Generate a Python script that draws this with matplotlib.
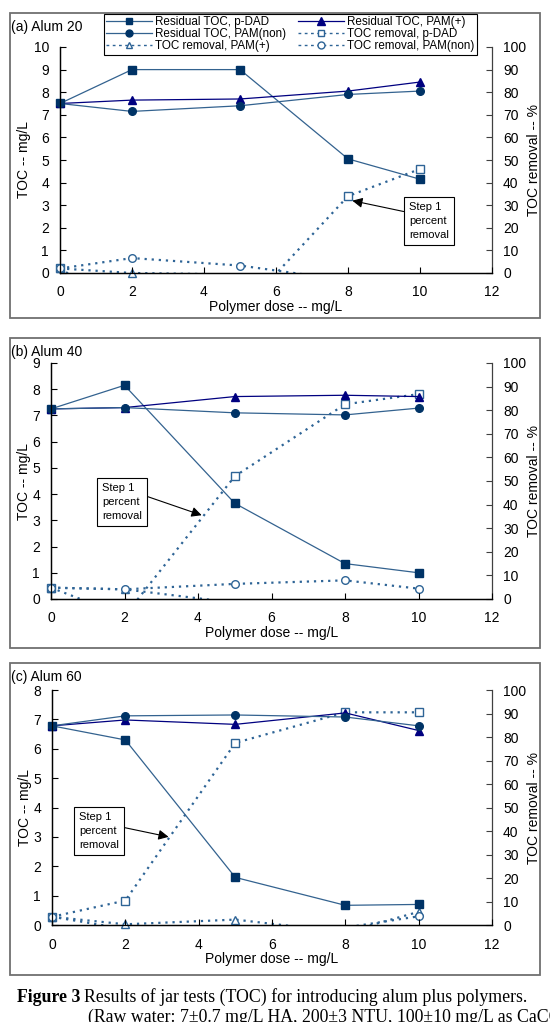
import matplotlib
matplotlib.use('Agg')
import matplotlib.pyplot as plt
from matplotlib.patches import Rectangle
from matplotlib.lines import Line2D
import numpy as np

plt.rcParams['font.family'] = ['Liberation Sans', 'DejaVu Sans']

# polymer dose -- mg/L
dose = [0, 2, 5, 8, 10]

# (a) Alum 20
a_res_pdad = [7.5, 9.0, 9.0, 5.05, 4.15]
a_res_pamp = [7.5, 7.65, 7.7, 8.05, 8.45]
a_res_pamn = [7.5, 7.15, 7.4, 7.9, 8.05]
a_rem_pdad = [2.0, -17.5, -17.5, 34.0, 46.0]
a_rem_pamp = [2.0, 0.0, -0.7, -5.0, -10.0]
a_rem_pamn = [2.0, 6.6, 3.3, -3.3, -5.2]

# (b) Alum 40
b_res_pdad = [7.25, 8.15, 3.65, 1.35, 1.0]
b_res_pamp = [7.25, 7.3, 7.72, 7.77, 7.72]
b_res_pamn = [7.25, 7.3, 7.1, 7.02, 7.28]
b_rem_pdad = [4.8, -7.2, 52.0, 82.5, 86.8]
b_rem_pamp = [4.8, 4.1, -1.6, -2.2, -1.6]
b_rem_pamn = [4.8, 4.1, 6.4, 7.9, 4.4]

# (c) Alum 60
c_res_pdad = [6.78, 6.3, 1.62, 0.67, 0.7]
c_res_pamp = [6.78, 6.98, 6.83, 7.22, 6.62]
c_res_pamn = [6.78, 7.12, 7.15, 7.08, 6.78]
c_rem_pdad = [3.5, 10.4, 77.5, 90.5, 90.5]
c_rem_pamp = [3.5, 0.3, 2.3, -3.1, 5.6]
c_rem_pamn = [3.5, -1.7, -2.1, -1.1, 3.7]

panel_titles = ['(a) Alum 20', '(b) Alum 40', '(c) Alum 60']
left_max = [10, 9, 8]

W, H = 550, 1022
fig = plt.figure(figsize=(W / 100, H / 100), dpi=100)

def px_axes(l, r, t, b):
    return [l / W, 1 - b / H, (r - l) / W, (b - t) / H]

ax_boxes = [px_axes(60, 492, 47, 273), px_axes(51, 492, 363, 599), px_axes(52, 492, 690, 925)]
frames = [(10, 540, 13, 318), (10, 540, 338, 648), (10, 540, 663, 975)]
title_y = [27, 352, 677]
ylabel_x = [-0.067, -0.045, -0.046]
# (text pos x, text pos y%, arrow tip x, tip y%, relpos)
notes = [(10.25, 23, 8.12, 32, (0, 0.72)),
         (1.93, 41, 4.1, 35.5, (1, 0.7)),
         (1.28, 40, 3.18, 37.5, (1, 0.62))]

c_dark = '#003366'
c_line = '#33628F'
c_navy = '#000080'
c_dot = '#2E6496'
FS = 10

res_sets = [(a_res_pdad, a_res_pamp, a_res_pamn), (b_res_pdad, b_res_pamp, b_res_pamn),
            (c_res_pdad, c_res_pamp, c_res_pamn)]
rem_sets = [(a_rem_pdad, a_rem_pamp, a_rem_pamn), (b_rem_pdad, b_rem_pamp, b_rem_pamn),
            (c_rem_pdad, c_rem_pamp, c_rem_pamn)]

def removal(ax2, y, marker):
    ax2.plot(dose, y, color=c_dot, lw=1.6, ls=(0, (1, 2.2)), zorder=2)
    y = np.array(y, dtype=float)
    ok = y >= 0
    ax2.plot(np.array(dose)[ok], y[ok], ls='none', marker=marker, ms=5.5,
             mfc='white', mec=c_dot, mew=1.0, clip_on=False, zorder=3)

for i in range(3):
    fx0, fx1, fy0, fy1 = frames[i]
    fig.patches.append(Rectangle((fx0 / W, 1 - fy1 / H), (fx1 - fx0) / W, (fy1 - fy0) / H,
                                 transform=fig.transFigure, fill=False, ec='#707070', lw=1.3))
    ax = fig.add_axes(ax_boxes[i])
    ax2 = ax.twinx()
    ax.set_zorder(ax2.get_zorder() + 1)
    ax.patch.set_visible(False)

    rp, rpp, rpn = res_sets[i]
    ax.plot(dose, rp, color=c_line, lw=0.9, marker='s', ms=5.5, mfc=c_dark, mec=c_dark,
            clip_on=False, label='Residual TOC, p-DAD')
    ax.plot(dose, rpp, color=c_navy, lw=0.9, marker='^', ms=6, mfc=c_navy, mec=c_navy,
            clip_on=False, label='Residual TOC, PAM(+)')
    ax.plot(dose, rpn, color=c_line, lw=0.9, marker='o', ms=5.5, mfc=c_dark, mec=c_dark,
            clip_on=False, label='Residual TOC, PAM(non)')

    mp, mpp, mpn = rem_sets[i]
    removal(ax2, mp, 's')
    removal(ax2, mpp, '^')
    removal(ax2, mpn, 'o')

    ax.set_xlim(0, 12)
    ax.set_xticks(range(0, 13, 2))
    ax.set_ylim(0, left_max[i])
    ax.set_yticks(range(0, left_max[i] + 1))
    ax2.set_ylim(0, 100)
    ax2.set_yticks(range(0, 101, 10))

    for a in (ax, ax2):
        a.spines['top'].set_visible(False)
        for s in a.spines.values():
            s.set_linewidth(0.9)
    ax.spines['right'].set_visible(False)
    ax2.spines['right'].set_color('#404040')
    ax.tick_params(axis='x', direction='in', length=4, width=0.8, labelsize=FS, pad=9)
    ax.tick_params(axis='y', direction='in', length=4, width=0.8, labelsize=FS, pad=8)
    ax2.tick_params(axis='y', direction='in', length=4, width=0.8, labelsize=FS, pad=8,
                    color='#404040')

    ax.set_xlabel('Polymer dose -- mg/L', fontsize=FS, labelpad=0)
    ax.set_ylabel('TOC -- mg/L', fontsize=FS)
    ax.yaxis.set_label_coords(ylabel_x[i], 0.5)
    ax2.set_ylabel('TOC removal -- %', fontsize=FS)
    ax2.yaxis.set_label_coords(1.08, 0.5)

    fig.text(11 / W, 1 - title_y[i] / H, panel_titles[i], fontsize=FS, va='center', ha='left')

    tx, ty, px, py, rel = notes[i]
    ax2.annotate('Step 1\npercent\nremoval', xy=(px, py), xytext=(tx, ty),
                 fontsize=8, ha='center', va='center', linespacing=1.5, multialignment='left',
                 bbox=dict(boxstyle='square,pad=0.45', fc='white', ec='black', lw=0.8),
                 arrowprops=dict(arrowstyle='-|>', color='black', lw=0.8, mutation_scale=15,
                                 relpos=rel, shrinkA=0, shrinkB=0),
                 zorder=10)

handles = [
    Line2D([], [], color=c_line, lw=0.9, marker='s', ms=5, mfc=c_dark, mec=c_dark),
    Line2D([], [], color=c_line, lw=0.9, marker='o', ms=5, mfc=c_dark, mec=c_dark),
    Line2D([], [], color=c_dot, lw=1.0, ls=(0, (2, 2.5)), marker='^', ms=5, mfc='white', mec=c_dot),
    Line2D([], [], color=c_navy, lw=0.9, marker='^', ms=5.5, mfc=c_navy, mec=c_navy),
    Line2D([], [], color=c_dot, lw=1.0, ls=(0, (2, 2.5)), marker='s', ms=5, mfc='white', mec=c_dot),
    Line2D([], [], color=c_dot, lw=1.0, ls=(0, (2, 2.5)), marker='o', ms=5, mfc='white', mec=c_dot),
]
labels = ['Residual TOC, p-DAD', 'Residual TOC, PAM(non)', 'TOC removal, PAM(+)',
          'Residual TOC, PAM(+)', 'TOC removal, p-DAD', 'TOC removal, PAM(non)']
leg = fig.legend(handles, labels, ncol=2, loc='upper left', bbox_to_anchor=(104 / W, 1 - 14 / H),
                 fontsize=8.4, frameon=True, fancybox=False, edgecolor='black', framealpha=1,
                 borderpad=0.2, labelspacing=0.0, handlelength=3.9, handletextpad=0.3,
                 columnspacing=1.0, borderaxespad=0)
leg.get_frame().set_linewidth(0.8)

# caption
fig.canvas.draw()
t1 = fig.text(17 / W, 1 - 997 / H, 'Figure 3', fontsize=12.8, fontweight='bold',
              family='Liberation Serif', va='center', ha='left')
bb = t1.get_window_extent(fig.canvas.get_renderer())
fig.text(bb.x1 / W + 4 / W, 1 - 997 / H, 'Results of jar tests (TOC) for introducing alum plus polymers.',
         fontsize=12.8, family='Liberation Serif', va='center', ha='left')
fig.text(88 / W, 1 - 1017 / H, '(Raw water: 7±0.7 mg/L HA, 200±3 NTU, 100±10 mg/L as CaCO3)',
         fontsize=12.8, family='Liberation Serif', va='center', ha='left')

fig.savefig('out.png', dpi=100)
